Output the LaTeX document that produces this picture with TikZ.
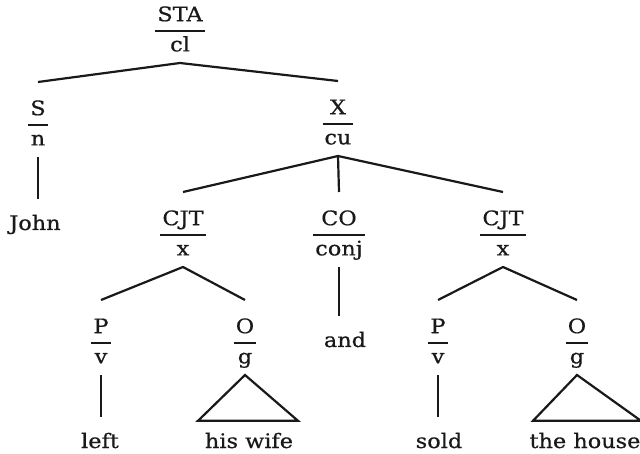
\documentclass[tikz,border=0pt]{standalone}
\usepackage{fontspec}
\setmainfont{DejaVu Serif}[FakeStretch=1.12, FakeBold=0.6]
\setlength{\arrayrulewidth}{2.2pt}
\newcommand{\catfn}[2]{\begin{tabular}{@{\hspace{2pt}}c@{\hspace{2pt}}}\rule{0pt}{30pt}#1\\\hline #2\end{tabular}}
\tikzset{
  catnode/.style={inner xsep=0pt, inner ysep=3pt, anchor=south},
  leaf/.style={anchor=base, inner ysep=17pt, text height=14pt, text depth=4pt},
  branch/.style={line width=2.2pt, color=black!90}
}
\begin{document}
\begin{tikzpicture}[x=1pt, y=-1pt, font=\fontsize{20}{28}\selectfont, text=black!90]
  \useasboundingbox (0,0) rectangle (640,454);
  \node [catnode] (sta) at (180,63) {\catfn{STA}{cl}};
  \node [catnode] (subj) at (38,157) {\catfn{S}{n}};
  \node [catnode] (conjx) at (338,156) {\catfn{X}{cu}};
  \node [catnode] (cjta) at (183,267) {\catfn{CJT}{x}};
  \node [catnode] (coord) at (339,267) {\catfn{CO}{conj}};
  \node [catnode] (cjtb) at (503,267) {\catfn{CJT}{x}};
  \node [catnode] (preda) at (101,375) {\catfn{P}{v}};
  \node [catnode] (obja) at (245,375) {\catfn{O}{g}};
  \node [catnode] (predb) at (438,375) {\catfn{P}{v}};
  \node [catnode] (objb) at (577,375) {\catfn{O}{g}};
  \node [leaf] (john) at (35,230) {John};
  \node [leaf] (wordand) at (345,347) {and};
  \node [leaf] (left) at (100,448) {left};
  \node [leaf] (hiswife) at (249,448) {his wife};
  \node [leaf] (sold) at (439,448) {sold};
  \node [leaf] (thehouse) at (585,448) {the house};
  \draw [branch] (subj.north) -- (sta.south) -- (conjx.north);
  \draw [branch] (cjta.north) -- (conjx.south) -- (cjtb.north);
  \draw [branch] (conjx.south) -- (coord.north);
  \draw [branch] (preda.north) -- (cjta.south) -- (obja.north);
  \draw [branch] (predb.north) -- (cjtb.south) -- (objb.north);
  \draw [branch] (subj.south) -- (subj.south |- john.north);
  \draw [branch] (coord.south) -- (coord.south |- wordand.north);
  \draw [branch] (preda.south) -- (preda.south |- left.north);
  \draw [branch] (predb.south) -- (predb.south |- sold.north);
  \draw [branch] (obja.south) -- ([xshift=-51pt, yshift=-4pt]hiswife.north)
    -- ([xshift=49pt, yshift=-4pt]hiswife.north) -- cycle;
  \draw [branch] (objb.south) -- ([xshift=-52pt, yshift=-4pt]thehouse.north)
    -- ([xshift=56pt, yshift=-4pt]thehouse.north) -- cycle;
\end{tikzpicture}
\end{document}
